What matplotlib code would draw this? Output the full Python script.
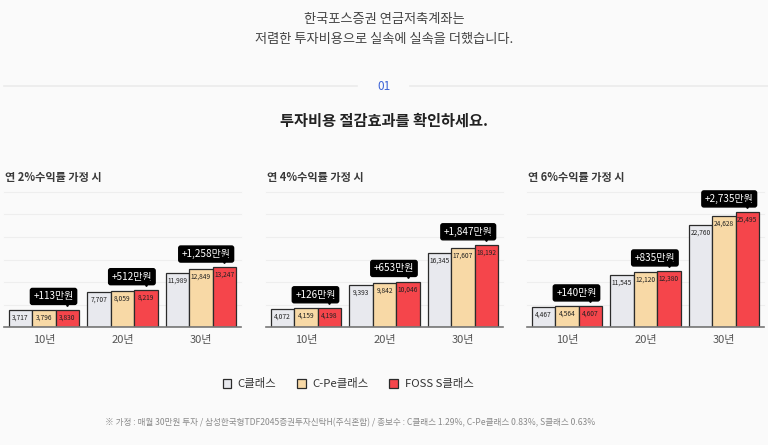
import matplotlib
matplotlib.use("Agg")
from matplotlib import pyplot as plt
from matplotlib.patches import Patch
import matplotlib.transforms as mtransforms

plt.rcParams["font.family"] = ["Noto Sans CJK KR", "DejaVu Sans"]

# 데이터 (만원)
periods = ["10년", "20년", "30년"]
class_names = ["C클래스", "C-Pe클래스", "FOSS S클래스"]
panel_titles = ["연 2%수익률 가정 시", "연 4%수익률 가정 시", "연 6%수익률 가정 시"]

c_class = [[3717, 7707, 11989], [4072, 9393, 16345], [4467, 11545, 22760]]
cpe_class = [[3796, 8059, 12849], [4159, 9842, 17607], [4564, 12120, 24628]]
s_class = [[3830, 8219, 13247], [4198, 10046, 18192], [4607, 12380, 25495]]
diff_labels = [["+113만원", "+512만원", "+1,258만원"],
               ["+126만원", "+653만원", "+1,847만원"],
               ["+140만원", "+835만원", "+2,735만원"]]

bar_colors = ["#e8e9ee", "#f8d9a6", "#f5454b"]
bg = "#fafafa"

W, H = 768, 445
fig = plt.figure(figsize=(W / 100, H / 100), dpi=100, facecolor=bg)


def px(x, y, w, h):
    return [x / W, 1 - (y + h) / H, w / W, h / H]


# 상단 문구
fig.text(384 / W, 1 - 20 / H, "한국포스증권 연금저축계좌는", ha="center", va="center",
         fontsize=9.5, color="#444444")
fig.text(384 / W, 1 - 40 / H, "저렴한 투자비용으로 실속에 실속을 더했습니다.", ha="center",
         va="center", fontsize=9.5, color="#444444")
fig.add_artist(plt.Line2D([4 / W, 357 / W], [1 - 86 / H] * 2, color="#ebebeb", lw=1.2))
fig.add_artist(plt.Line2D([410 / W, 1], [1 - 86 / H] * 2, color="#ebebeb", lw=1.2))
fig.text(384 / W, 1 - 86 / H, "01", ha="center", va="center", fontsize=8.5, color="#3d63d6")
fig.text(384 / W, 1 - 121 / H, "투자비용 절감효과를 확인하세요.", ha="center", va="center",
         fontsize=11, color="#222222", weight="bold")

bw = 0.298
panel_left = [4, 266, 527]

for p in range(3):
    ax = fig.add_axes(px(panel_left[p], 192, 237, 135))
    ax.set_facecolor(bg)
    ax.set_xlim(-0.51, 2.51)
    ax.set_ylim(0, 30000)
    for gv in range(5000, 30001, 5000):
        ax.axhline(gv, color="#eeeeee", lw=0.8, zorder=0, clip_on=False)
    series = [c_class[p], cpe_class[p], s_class[p]]
    for i, vals in enumerate(series):
        xs = [g + (i - 1) * bw for g in range(3)]
        ax.bar(xs, vals, width=bw, color=bar_colors[i], edgecolor="#2b2b2b",
               linewidth=0.9, zorder=2)
        for x, v in zip(xs, vals):
            ax.annotate(f"{v:,}", (x, v), xytext=(0, -5.5), textcoords="offset points",
                        ha="center", va="center", fontsize=4.8, color="#222222", zorder=3)
    # 차이 말풍선
    for g in range(3):
        xr = g + bw
        top = s_class[p][g]
        ax.annotate(diff_labels[p][g], (xr, top), xytext=(4.5, 6), textcoords="offset points",
                    ha="right", va="bottom", fontsize=7.2, color="white", zorder=5,
                    bbox=dict(boxstyle="round,pad=0.3,rounding_size=0.2", fc="black",
                              ec="black"))
        tri = mtransforms.offset_copy(ax.transData, fig=fig, x=0, y=5.2, units="points")
        ax.plot([xr], [top], marker="v", ms=4, color="black", transform=tri,
                zorder=5, clip_on=False)
    for s in ["top", "left", "right"]:
        ax.spines[s].set_visible(False)
    ax.spines["bottom"].set_color("#777777")
    ax.spines["bottom"].set_linewidth(1.2)
    ax.set_yticks([])
    ax.set_xticks(range(3))
    ax.set_xticklabels(periods, fontsize=8, color="#555555")
    ax.tick_params(axis="x", length=0, pad=6)
    fig.text((panel_left[p] + 1) / W, 1 - 177 / H, panel_titles[p], ha="left", va="center",
             fontsize=8, color="#3a3a3a", weight="bold")

handles = [Patch(facecolor=c, edgecolor="#2b2b2b", linewidth=0.9) for c in bar_colors]
fig.legend(handles, class_names, loc="center", bbox_to_anchor=(348 / W, 1 - 384 / H),
           ncol=3, frameon=False, fontsize=8.2, handlelength=0.75, handleheight=0.75,
           handletextpad=0.6, columnspacing=1.8, labelcolor="#333333")

fig.text(105 / W, 1 - 423 / H,
         "※ 가정 : 매월 30만원 투자 / 삼성한국형TDF2045증권투자신탁H(주식혼합) / 총보수 : "
         "C클래스 1.29%, C-Pe클래스 0.83%, S클래스 0.63%",
         ha="left", va="center", fontsize=6.2, color="#8a8a8a")

fig.savefig("out.png", dpi=100, facecolor=bg)
